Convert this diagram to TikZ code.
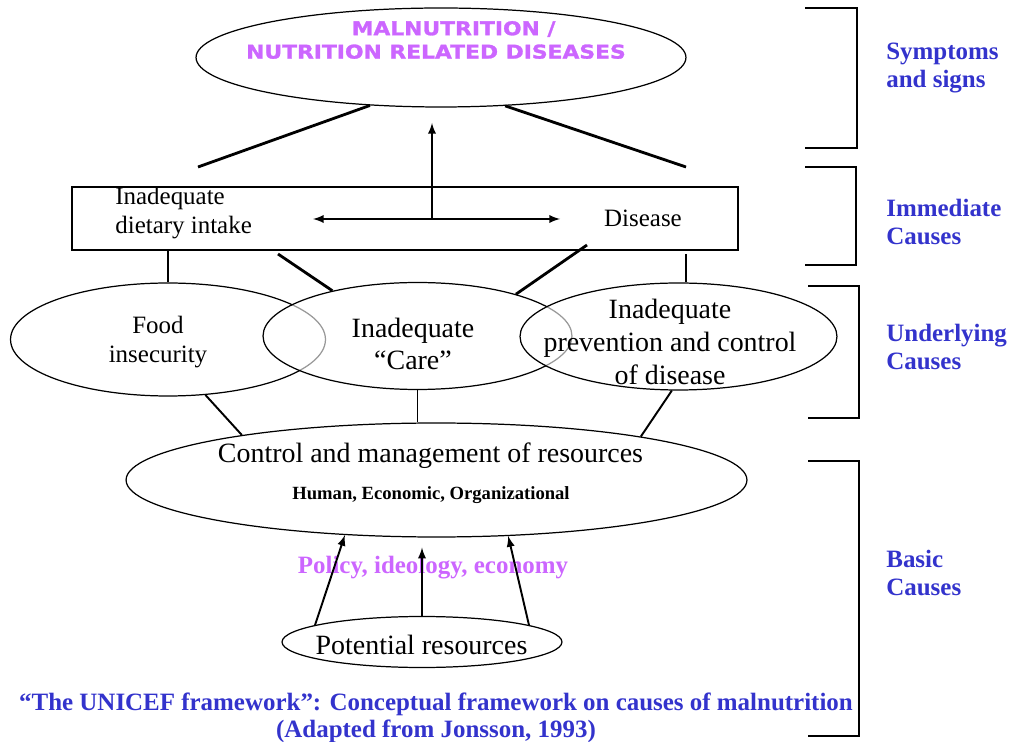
\documentclass[tikz,border=0pt]{standalone}
\usepackage{fontspec}
\setmainfont{Liberation Serif}
\newfontfamily\widesans[FakeStretch=1.15,FakeBold=1.5]{DejaVu Sans}
\definecolor{headMagenta}{RGB}{204,102,255}
\definecolor{levelBlue}{RGB}{51,51,204}
\usetikzlibrary{shapes.geometric}

\begin{document}
\begin{tikzpicture}[x=0.02cm,y=-0.02cm,
    oval/.style={draw,ellipse,line width=0.7pt,inner sep=0pt,fill=white,fill opacity=0.6},
    cause/.style={inner sep=0pt,align=center,font=\fontsize{14.2}{16.4}\selectfont},
    big/.style={inner sep=0pt,align=center,font=\fontsize{15.9}{18.7}\selectfont},
    level/.style={inner sep=0pt,align=left,anchor=west,text=levelBlue,font=\bfseries\fontsize{14.2}{16.4}\selectfont},
    link/.style={line width=1.6pt},
    tie/.style={line width=1.1pt},
    brace/.style={line width=0.9pt}]
        \useasboundingbox (0,0) rectangle (1010,742);
        % symptoms
        \node[oval,minimum width=9.8cm,minimum height=1.98cm] (malnut) at (441,57.5) {};
        \node[inner sep=0pt,align=center,text=headMagenta,font=\widesans\bfseries\fontsize{10.8}{13.3}\selectfont] (malnuttxt) at (436,40) {\hspace*{20pt}MALNUTRITION /\\NUTRITION RELATED DISEASES};
        % immediate causes
        \node[draw,line width=0.7pt,minimum width=13.32cm,minimum height=1.26cm] (immbox) at (405,218.5) {};
        \node[cause,align=left,anchor=west] (intake) at (115,213) {Inadequate\\dietary intake};
        \node[cause] (disease) at (643,218) {Disease};
        % underlying causes
        \node[oval,minimum width=6.3cm,minimum height=2.26cm] (food) at (168,339.5) {};
        \node[oval,minimum width=6.18cm,minimum height=2.14cm] (care) at (417.5,336) {};
        \node[oval,minimum width=6.34cm,minimum height=2.14cm] (prevent) at (678.5,336.5) {};
        \node[cause] (foodtxt) at (158,342) {Food\\insecurity};
        \node[big] (caretxt) at (413,344) {Inadequate\\“Care”};
        \node[big] (preventtxt) at (670,342) {Inadequate\\prevention and control\\of disease};
        % basic causes
        \node[oval,minimum width=12.42cm,minimum height=2.28cm] (resources) at (436.5,480) {};
        \node[big] (restxt) at (430.5,456) {Control and management of resources};
        \node[inner sep=0pt,font=\bfseries\fontsize{10.6}{12}\selectfont] (restypes) at (431,495) {Human, Economic, Organizational};
        \node[inner sep=0pt,text=headMagenta,font=\bfseries\fontsize{14.2}{16}\selectfont] (policy) at (433,568) {Policy, ideology, economy};
        \node[oval,minimum width=5.6cm,minimum height=1.02cm] (potential) at (422,642) {};
        \node[big] (pottxt) at (421.5,645) {Potential resources};
        % caption
        \node[inner sep=0pt,align=center,text=levelBlue,font=\bfseries\fontsize{14.2}{15.3}\selectfont] (caption) at (436,718) {“The UNICEF framework”: Conceptual framework on causes of malnutrition\\(Adapted from Jonsson, 1993)};
        % levels
        \node[level] (symptoms) at (886,68) {Symptoms\\and signs};
        \node[level] (immediate) at (886,222) {Immediate\\Causes};
        \node[level] (underlying) at (886,347) {Underlying\\Causes};
        \node[level] (basic) at (886,573) {Basic\\Causes};
        \draw[brace] (805,8) -- (857,8) -- (857,148) -- (805,148);
        \draw[brace] (805,167) -- (856,167) -- (856,265) -- (805,265);
        \draw[brace] (808,286) -- (859,286) -- (859,418) -- (808,418);
        \draw[brace] (808,461) -- (859,461) -- (859,736) -- (808,736);
        % connectors
        \coordinate (lfoot) at (198,167);
        \coordinate (rfoot) at (686,167);
        \coordinate (split) at (432,219);
        \coordinate (uptip) at (432,123);
        \coordinate (leftend) at (313,219);
        \coordinate (rightend) at (560,219);
        \coordinate (carel) at (278,254);
        \coordinate (carer) at (587,245);
        \coordinate (prevtop) at (686,254);
        \draw[link] (lfoot) -- (malnut.214);
        \draw[link] (rfoot) -- (malnut.323);
        \draw[tie,latex-latex] (leftend) -- (rightend);
        \draw[tie,-latex] (split) -- (uptip);
        \draw[link] (food.north |- immbox.south) -- (food.north);
        \draw[link] (carel) -- (care.152);
        \draw[link] (carer) -- (care.23);
        \draw[link] (prevtop) -- (prevtop |- prevent.north);
        \draw[tie] (food.304) -- (resources.167);
        \draw[tie] (care.south) -- (care.south |- resources.north);
        \draw[tie] (prevent.263) -- (resources.12);
        \draw[tie,-latex] (potential.171) -- (resources.211);
        \draw[tie,-latex] (potential.north) -- ([yshift=-0.2cm]resources.south -| potential.north);
        \draw[tie,-latex] (potential.9) -- (resources.322);
      \end{tikzpicture}
\end{document}
